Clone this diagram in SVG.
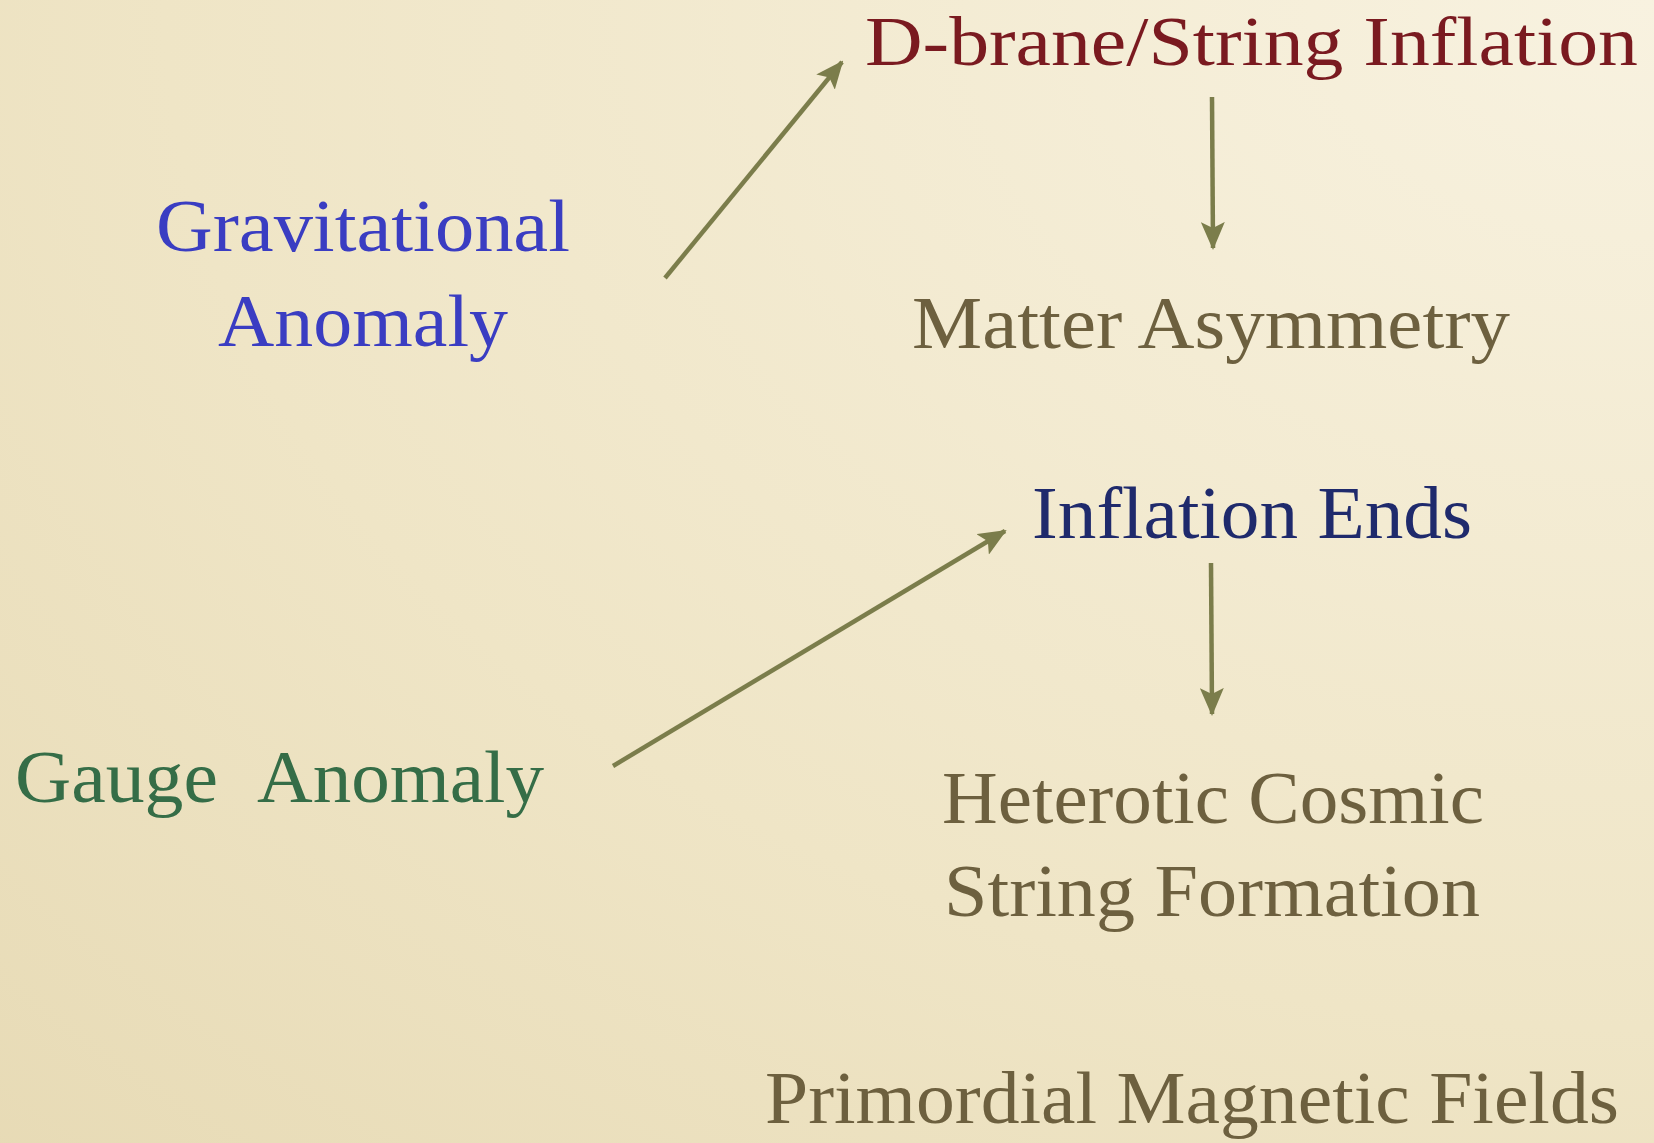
<svg xmlns="http://www.w3.org/2000/svg" width="1654" height="1143" viewBox="0 0 1654 1143">
<defs>
<radialGradient id="bg" cx="1" cy="0" r="1.5" gradientUnits="objectBoundingBox">
<stop offset="0" stop-color="#f8f2e0"/>
<stop offset="0.6" stop-color="#efe5c6"/>
<stop offset="1" stop-color="#e6d9b3"/>
</radialGradient>
<marker id="ah" markerUnits="userSpaceOnUse" viewBox="0 0 28 24" refX="26" refY="12" markerWidth="28" markerHeight="24" orient="auto">
<path d="M0,0 L28,12 L0,24 L6,12 Z" fill="#7b7d4b"/>
</marker>
</defs>
<style>
text{font-family:"Liberation Serif","DejaVu Serif",serif;font-size:74px}
.con{stroke:#7b7d4b;stroke-width:4.5;fill:none}
</style>
<rect width="1654" height="1143" fill="url(#bg)"/>
<g id="connectors">
<line class="con" x1="665" y1="278" x2="842" y2="62" marker-end="url(#ah)"/>
<line class="con" x1="1212" y1="97" x2="1213" y2="248" marker-end="url(#ah)"/>
<line class="con" x1="613" y1="766" x2="1005" y2="531" marker-end="url(#ah)"/>
<line class="con" x1="1211" y1="563" x2="1212" y2="714" marker-end="url(#ah)"/>
</g>
<g id="dbrane"><text x="865" y="65" fill="#7a1a20" style="font-size:70px" textLength="773" lengthAdjust="spacingAndGlyphs">D-brane/String Inflation</text></g>
<g id="gravitational"><text x="156" y="251" fill="#3a3dc2" textLength="414" lengthAdjust="spacingAndGlyphs">Gravitational</text><text x="218" y="346" fill="#3a3dc2" textLength="290" lengthAdjust="spacingAndGlyphs">Anomaly</text></g>
<g id="matter"><text x="912" y="348" fill="#6d603f" textLength="598" lengthAdjust="spacingAndGlyphs">Matter Asymmetry</text></g>
<g id="inflationends"><text x="1032" y="538" fill="#1f2a6c" textLength="440" lengthAdjust="spacingAndGlyphs">Inflation Ends</text></g>
<g id="gauge"><text y="802" fill="#356d47"><tspan x="15" textLength="203" lengthAdjust="spacingAndGlyphs">Gauge</tspan><tspan x="257" textLength="287" lengthAdjust="spacingAndGlyphs">Anomaly</tspan></text></g>
<g id="heterotic"><text x="942" y="823" fill="#6d603f" textLength="542" lengthAdjust="spacingAndGlyphs">Heterotic Cosmic</text><text x="944" y="916" fill="#6d603f" textLength="536" lengthAdjust="spacingAndGlyphs">String Formation</text></g>
<g id="primordial"><text x="765" y="1123" fill="#6d603f" textLength="854" lengthAdjust="spacingAndGlyphs">Primordial Magnetic Fields</text></g>
</svg>
